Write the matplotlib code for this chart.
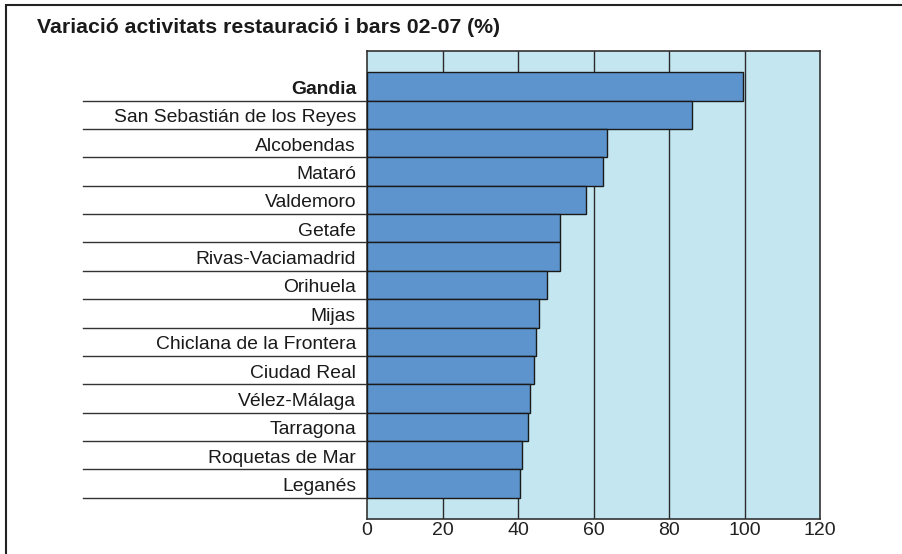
import matplotlib
matplotlib.use("Agg")
import matplotlib.pyplot as plt
from matplotlib.patches import Rectangle
import matplotlib.transforms as mtransforms

plt.rcParams['font.family'] = ['Liberation Sans', 'DejaVu Sans']

title = "Variació activitats restauració i bars 02-07 (%)"
municipis = [
    "Gandia", "San Sebastián de los Reyes", "Alcobendas", "Mataró",
    "Valdemoro", "Getafe", "Rivas-Vaciamadrid", "Orihuela", "Mijas",
    "Chiclana de la Frontera", "Ciudad Real", "Vélez-Málaga",
    "Tarragona", "Roquetas de Mar", "Leganés",
]
variacio = [99.5, 86.0, 63.7, 62.6, 58.1, 51.2, 51.1, 47.7, 45.6,
            44.7, 44.2, 43.2, 42.6, 41.0, 40.6]
x_ticks = [0, 20, 40, 60, 80, 100, 120]

W, H = 902, 554
fig = plt.figure(figsize=(W / 100, H / 100), dpi=100)

# outer frame
fig.patches.append(Rectangle((6 / W, -0.1), 1.2, 1 - 5 / H + 0.1,
                             transform=fig.transFigure, fill=False,
                             edgecolor="#222222", linewidth=1.5))

fig.text(37 / W, 1 - 27.5 / H, title, fontsize=15.3, fontweight="bold",
         ha="left", va="center", color="#1a1a1a")

ax = fig.add_axes([367 / W, 1 - 519 / H, 453 / W, 468 / H])
ax.set_facecolor("#C3E6F1")

ypos = list(range(len(municipis)))
ax.barh(ypos, variacio, height=1.0, color="#5E94CE",
        edgecolor="#1a1a1a", linewidth=1.0, zorder=3)

ax.set_xlim(0, 120)
ax.set_ylim(len(municipis) - 0.5 + 0.75, -0.5 - 0.75)
ax.set_xticks(x_ticks)
ax.set_xticklabels([str(t) for t in x_ticks], fontsize=14, color="#222222")
ax.tick_params(axis="x", length=0, pad=2)
ax.set_yticks([])

for t in x_ticks[1:-1]:
    ax.axvline(t, color="#2a2a2a", linewidth=1.0, zorder=1)

for s in ax.spines.values():
    s.set_color("#333333")
    s.set_linewidth(1.2)

# category labels and separator rules to the left of the plot
trans = mtransforms.blended_transform_factory(ax.transAxes, ax.transData)
label_offset = mtransforms.ScaledTranslation(0, -3 / 100, fig.dpi_scale_trans)
for i, name in enumerate(municipis):
    ax.text(-11 / 453, i, name, transform=trans + label_offset,
            ha="right", va="center", fontsize=13.9, color="#1a1a1a",
            fontweight="bold" if i == 0 else "normal")
    ax.plot([(83 - 367) / 453, 0], [i + 0.5, i + 0.5], transform=trans,
            color="#333333", linewidth=1.0, clip_on=False, zorder=2)

fig.savefig("out.png", dpi=100)
